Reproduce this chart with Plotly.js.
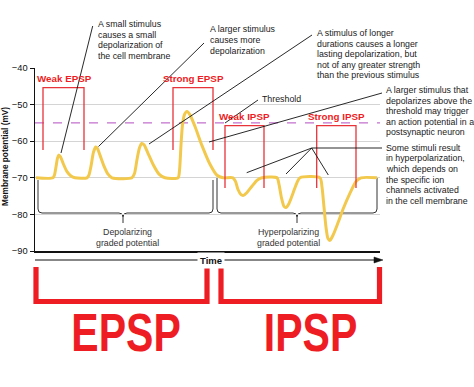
<!DOCTYPE html>
<html><head><meta charset="utf-8">
<script src="https://cdn.plot.ly/plotly-3.0.1.min.js"></script>
<style>html,body{margin:0;padding:0;background:#fff}</style>
</head><body><div id="chart" style="width:474px;height:387px"></div>
<script>
// ---------- data ----------
const time = [1,18,19.5,21,22.5,23.7,25.5,28.5,32,36,40,
  52,54,56,58.5,60.7,62.5,65,69,73,77,
  97,99.5,102,104.5,106.7,109,113,118,124,130,
  143,144.5,146,147.5,149.5,152,155,160,167,175,182,188,
  198,200.5,203,206,208.5,212,217,222,227,
  242,244,246.5,249,251,254,258,262,265,
  285,287,289,291,293,295,298,303,308,315,321,326,342];
const membranePotential = [-70,-70,-69.2,-67,-64.6,-63.8,-64.3,-66.3,-68.3,-69.5,-70,
  -70,-69.2,-66.8,-63,-61.6,-62,-63.8,-66.8,-69,-70,
  -70,-68.8,-65,-61.8,-60.6,-61,-63.3,-66.3,-69,-70,
  -70,-68,-61,-55.5,-52.7,-51.9,-52.8,-56,-61.2,-66.3,-69.3,-70,
  -70,-71,-73.2,-74.6,-74.8,-74,-72.3,-70.7,-70,
  -70,-71.8,-75.5,-77.8,-78.1,-77,-74.2,-71.3,-70,
  -70,-72.5,-78,-83.5,-86.6,-87.1,-85.7,-82.3,-78.6,-74.2,-71,-70,-70];
const yTickValues = [-90,-80,-70,-60,-50,-40];
const yTickLabels = ['\u221290','\u221280','\u221270','\u221260','\u221250','\u221240'];
const thresholdMv = -55;
const stimulusLabels = ['Weak EPSP','Strong EPSP','Weak IPSP','Strong IPSP'];
const groupLabels = ['EPSP','IPSP'];
const braceLabels = ['Depolarizing<br>graded potential','Hyperpolarizing<br>graded potential'];
const noteTexts = [
  ['A small stimulus','causes a small','depolarization of','the cell membrane'],
  ['A larger stimulus','causes more','depolarization'],
  ['A stimulus of longer','durations causes a longer','lasting depolarization, but','not of any greater strength','than the previous stimulus'],
  ['Threshold'],
  ['A larger stimulus that','depolarizes above the','threshold may trigger','an action potential in a','postsynaptic neuron'],
  ['Some stimuli result','in hyperpolarization,','which depends on','the specific ion','channels activated','in the cell membrane']
];

// ---------- layout helpers (pixel -> paper) ----------
const L=35, R=380, T=68, B=251;
const X = p => (p-L)/(R-L);
const Y = p => (B-p)/(B-T);
const RED='#ee1d24', TXT='#1a1a1a', SANS='Liberation Sans, Arial, sans-serif';

const shapes=[], annotations=[];
function pline(x0,y0,x1,y1,color,width,layer){
  shapes.push({type:'line',xref:'paper',yref:'paper',x0:X(x0),y0:Y(y0),x1:X(x1),y1:Y(y1),
    line:{color:color,width:width},layer:layer||'above'});
}
function ppath(pts,color,width,layer){
  const d=pts.map((p,i)=>(i?'L':'M')+X(p[0])+','+Y(p[1])).join(' ');
  shapes.push({type:'path',xref:'paper',yref:'paper',path:d,line:{color:color,width:width},layer:layer||'above'});
}
function brace(x0,x1,xm,yTop,yb,yTip){
  const r=4, P=(x,y)=>X(x)+','+Y(y);
  const d=`M ${P(x0,yTop)} L ${P(x0,yb-r)} Q ${P(x0,yb)} ${P(x0+r,yb)} L ${P(xm-r,yb)} Q ${P(xm,yb)} ${P(xm,yb+r)} L ${P(xm,yTip)} M ${P(xm,yb+r)} Q ${P(xm,yb)} ${P(xm+r,yb)} L ${P(x1-r,yb)} Q ${P(x1,yb)} ${P(x1,yb-r)} L ${P(x1,yTop)}`;
  shapes.push({type:'path',xref:'paper',yref:'paper',path:d,line:{color:'#333',width:1},layer:'below'});
}
function text(t,x,y,opts){
  annotations.push(Object.assign({text:t,xref:'paper',yref:'paper',x:X(x),y:Y(y),showarrow:false,
    xanchor:'left',yanchor:'middle',font:{family:SANS,size:8.8,color:TXT}},opts||{}));
}
function note(lines,x,y0,dy){ lines.forEach((s,i)=>text(s,x,y0+i*dy)); }

// threshold dashed line
shapes.push({type:'line',xref:'paper',yref:'y',x0:0,x1:1,y0:thresholdMv,y1:thresholdMv,
  line:{color:'#b24cc0',width:1,dash:'dash'},layer:'below'});

// braces
brace(38,213,123,180,213,223);
brace(217,377,297,178,213,223);

// small red stimulus brackets
const br=[[43,84,87.7,150],[173,213,87.7,150],[225,264,125.7,188],[316.7,356,125.7,188]];
br.forEach(b=>ppath([[b[0],b[3]],[b[0],b[2]],[b[1],b[2]],[b[1],b[3]]],'#e8333a',1.3));
const brLab=[[64,79],[193.5,79],[244.5,116.7],[336,116.7]];
stimulusLabels.forEach((s,i)=>text('<b>'+s+'</b>',brLab[i][0],brLab[i][1],
  {xanchor:'center',font:{family:SANS,size:9.8,color:RED}}));

// leader lines
const leaders=[[92.7,26,61,153],[204,43,98.5,146.5],[312,35,149,144],[258,100,225,123],
  [382,93,209,142],[382,148,311.7,148],[311.7,148,246.7,172.7],[311.7,148,286,174],[311.7,148,328.3,175]];
leaders.forEach(l=>pline(l[0],l[1],l[2],l[3],'#111',0.9));

// notes
const notePos=[[95.7,24.3,10.45],[208,29.3,10.7],[315,33.3,10.5],[260,99.3,10],[384,90,10.6],[384,147.7,10.65]];
noteTexts.forEach((n,i)=>note(n,notePos[i][0],notePos[i][1],notePos[i][2]));

// brace labels
text(braceLabels[0],127,237,{xanchor:'center',font:{family:SANS,size:8.8,color:'#333'}});
text(braceLabels[1],288,237,{xanchor:'center',font:{family:SANS,size:8.8,color:'#333'}});

// time arrow
pline(35,260,376,260,'#111',1.2);
shapes.push({type:'path',xref:'paper',yref:'paper',path:`M ${X(383)},${Y(260)} L ${X(374)},${Y(257)} L ${X(374)},${Y(263)} Z`,
  fillcolor:'#111',line:{color:'#111',width:0.5}});
text('<b>Time</b>',211,260,{xanchor:'center',bgcolor:'#fff',borderpad:2,font:{family:SANS,size:9.5,color:'#111'}});

// y axis title
text('<b>Membrane potential (mV)</b>',5,157,{xanchor:'center',textangle:-90,font:{family:SANS,size:8.3,color:'#111'}});

// big bottom brackets
ppath([[36,267],[36,301.5],[207,301.5],[207,267]],RED,5.2);
ppath([[221,267],[221,301.5],[379.5,301.5],[379.5,267]],RED,5.2);
text('<b>'+groupLabels[0]+'</b>',126,332,{xanchor:'center',font:{family:SANS,size:54,color:RED}});
text('<b>'+groupLabels[1]+'</b>',310,332,{xanchor:'center',font:{family:SANS,size:54,color:RED}});

const trace={x:time,y:membranePotential,type:'scatter',mode:'lines',
  line:{color:'#f2c94c',width:3,shape:'spline',smoothing:0.7},hoverinfo:'skip'};

const layout={width:474,height:387,margin:{l:L,r:474-R,t:T,b:387-B},
  paper_bgcolor:'#fff',plot_bgcolor:'#fff',showlegend:false,
  xaxis:{range:[0,345],showgrid:false,zeroline:false,showticklabels:false,ticks:'',
    showline:true,linecolor:'#111',linewidth:1.5,fixedrange:true},
  yaxis:{range:[-90,-40],tickvals:yTickValues,ticktext:yTickLabels,ticks:'outside',ticklen:4,
    tickcolor:'#111',tickwidth:1,showline:true,linecolor:'#111',linewidth:1.5,zeroline:false,
    gridcolor:'#d4d4d4',gridwidth:1,tickfont:{family:SANS,size:9.3,color:'#111'},fixedrange:true},
  shapes:shapes,annotations:annotations};
Plotly.newPlot('chart',[trace],layout,{staticPlot:true,displayModeBar:false}).then(gd=>{
  // condense the big group labels horizontally (narrow display face)
  gd.querySelectorAll('text.annotation-text').forEach(t=>{
    if(groupLabels.indexOf(t.textContent)>=0){
      const bb=t.getBBox(), cx=bb.x+bb.width/2, s=0.76;
      t.setAttribute('transform',`matrix(${s},0,0,1,${cx*(1-s)},0)`);
    }
  });
});
</script></body></html>
